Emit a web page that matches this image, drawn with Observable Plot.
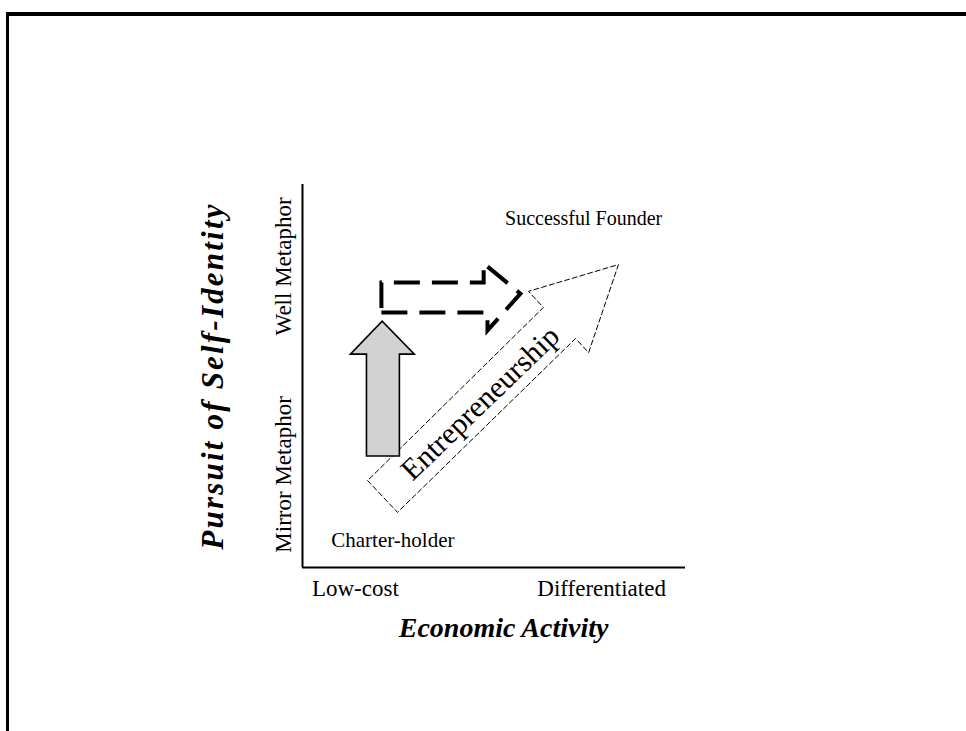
<!DOCTYPE html>
<html>
<head>
<meta charset="utf-8">
<script src="https://cdn.jsdelivr.net/npm/d3@7"></script>
<script src="https://cdn.jsdelivr.net/npm/@observablehq/plot@0.6"></script>
<style>
  html, body { margin: 0; padding: 0; background: #fff; }
  #wrap { position: relative; width: 966px; height: 731px; overflow: hidden; background: #fff; }
  #frame { position: absolute; left: 6px; top: 12px; width: 2000px; height: 2000px;
           border-top: 4px solid #000; border-left: 3px solid #000; box-sizing: border-box; pointer-events: none; }
  #chart { position: absolute; left: 0; top: 0; }
</style>
</head>
<body>
<div id="wrap"><div id="frame"></div><div id="chart"></div></div>
<script>
// ---- Data (conceptual coordinates, 0–100 on each axis) ----
const xTicks = [13.8, 78.1];
const xTickLabels = ["Low-cost", "Differentiated"];
const yTicks = [24.3, 78.6];
const yTickLabels = ["Mirror Metaphor", "Well Metaphor"];

const xTitle = "Economic Activity";
const yTitle = "Pursuit of Self-Identity";

// grey "upward" arrow (Mirror -> Well metaphor)
const greyArrowX = [16.7, 16.7, 12.5, 20.8, 29.2, 25.3, 25.3];
const greyArrowY = [29.1, 55.7, 55.7, 64.3, 55.7, 55.7, 29.1];

// bold dashed arrow (low-cost -> differentiated)
const dashArrowX = [20.6, 48.3, 48.3, 56.9, 47.3, 47.3, 20.6];
const dashArrowY = [66.6, 66.6, 61.9, 71.5, 79.4, 74.4, 74.4];

// large diagonal "Entrepreneurship" arrow
const bigArrowX = [17.0, 24.8, 71.3, 74.7, 82.5, 59.0, 62.9];
const bigArrowY = [22.7, 14.4, 59.8, 56.1, 79.1, 72.1, 67.9];

const pointLabels = ["Successful Founder", "Charter-holder"];
const pointLabelX = [73.4, 23.6];
const pointLabelY = [91.1, 7.0];

const arrowLabel = "Entrepreneurship";
const arrowLabelX = 46.4;
const arrowLabelY = 42.9;

const toPts = (xs, ys) => xs.map((x, i) => ({x, y: ys[i]}));
const serif = "'Liberation Serif', 'Times New Roman', Times, serif";

const plot = Plot.plot({
  width: 966,
  height: 731,
  marginLeft: 302,
  marginRight: 281,
  marginTop: 184,
  marginBottom: 164,
  x: {domain: [0, 100]},
  y: {domain: [0, 100]},
  style: {fontFamily: serif, color: "#000", background: "transparent", overflow: "visible"},
  marks: [
    // axis lines
    Plot.ruleX([0], {y1: 0, y2: 100, stroke: "#000", strokeWidth: 2}),
    Plot.ruleY([0], {x1: 0, x2: 100, stroke: "#000", strokeWidth: 2}),
    // tick labels
    Plot.axisX({ticks: xTicks, tickFormat: (d, i) => xTickLabels[i], tickSize: 0, tickPadding: 12,
                fontSize: 23, label: null, fill: "#000"}),
    Plot.axisY({ticks: yTicks, tickFormat: (d, i) => yTickLabels[i], tickSize: 0, tickPadding: 19,
                rotate: -90, textAnchor: "middle", lineAnchor: "middle", fontSize: 23, label: null, fill: "#000"}),
    // axis titles
    Plot.text([xTitle], {x: 52.5, frameAnchor: "bottom", dy: 69, text: d => d, fontSize: 28,
                fontWeight: "bold", fontStyle: "italic", fill: "#000"}),
    Plot.text([yTitle], {y: 50, frameAnchor: "left", dx: -89, text: d => d, rotate: -90, fontSize: 31,
                fontWeight: "bold", fontStyle: "italic", fill: "#000", textAnchor: "middle"}),
    // large dashed diagonal arrow
    Plot.line(toPts(bigArrowX, bigArrowY), {x: "x", y: "y", curve: "linear-closed", stroke: "#000",
                strokeWidth: 1, strokeDasharray: "5,3", fill: "none", strokeLinejoin: "miter", strokeMiterlimit: 10}),
    // grey arrow
    Plot.line(toPts(greyArrowX, greyArrowY), {x: "x", y: "y", curve: "linear-closed", stroke: "#000",
                strokeWidth: 1.6, fill: "#d2d2d2", strokeLinejoin: "miter", strokeMiterlimit: 10}),
    // bold dashed arrow
    Plot.line(toPts(dashArrowX, dashArrowY), {x: "x", y: "y", curve: "linear-closed", stroke: "#000",
                strokeWidth: 4, strokeDasharray: "26,12", fill: "none", strokeLinejoin: "miter",
                strokeLinecap: "butt", strokeMiterlimit: 10}),
    // labels
    Plot.text([arrowLabel], {x: arrowLabelX, y: arrowLabelY, text: d => d, rotate: -44, fontSize: 30, fill: "#000"}),
    Plot.text(pointLabels, {x: (d, i) => pointLabelX[i], y: (d, i) => pointLabelY[i], text: d => d,
                fontSize: [20, 21], fill: "#000"})
  ]
});
// slight letter spacing on the vertical title, as in the original
d3.select(plot).selectAll("text").filter(function () { return this.textContent === yTitle; })
  .style("letter-spacing", "2.2px");
document.getElementById("chart").appendChild(plot);
</script>
</body>
</html>
